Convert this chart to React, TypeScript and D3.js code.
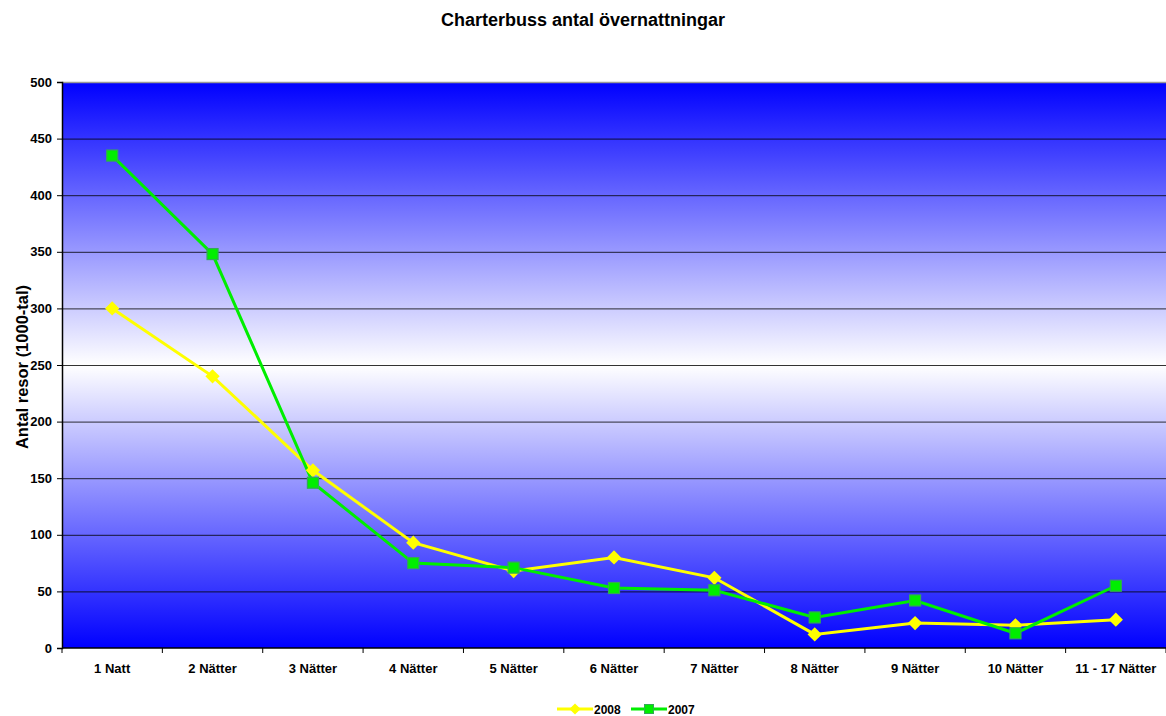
import { useEffect, useRef } from 'react';
import * as d3 from 'd3';

const categories = ['1 Natt', '2 Nätter', '3 Nätter', '4 Nätter', '5 Nätter', '6 Nätter', '7 Nätter', '8 Nätter', '9 Nätter', '10 Nätter', '11 - 17 Nätter'];
const values2008 = [300, 240, 157, 93, 68, 80, 62, 12, 22, 20, 25];
const values2007 = [435, 348, 146, 75, 71, 53, 51, 27, 42, 13, 55];
const yTicks = [0, 50, 100, 150, 200, 250, 300, 350, 400, 450, 500];

const FONT = '"Liberation Sans", Arial, sans-serif';

export default function App() {
  const ref = useRef<SVGSVGElement>(null);

  useEffect(() => {
    if (!ref.current) return;
    const svg = d3.select(ref.current);
    svg.selectAll('*').remove();

    const W = 1166, H = 716;
    const margin = { top: 82, right: 0, bottom: 68, left: 62 };
    const width = W - margin.left - margin.right;
    const height = H - margin.top - margin.bottom;

    const defs = svg.append('defs');
    const grad = defs.append('linearGradient')
      .attr('id', 'bg').attr('x1', 0).attr('y1', 0).attr('x2', 0).attr('y2', 1);
    grad.append('stop').attr('offset', '0%').attr('stop-color', '#0000ff');
    grad.append('stop').attr('offset', '50%').attr('stop-color', '#ffffff');
    grad.append('stop').attr('offset', '100%').attr('stop-color', '#0000ff');

    const x = d3.scaleBand().domain(categories).range([0, width]);
    const y = d3.scaleLinear().domain([0, 500]).range([height, 0]);

    const chart = svg.append('g').attr('transform', `translate(${margin.left},${margin.top})`);

    chart.append('rect').attr('width', width).attr('height', height).attr('fill', 'url(#bg)');

    // gridlines
    chart.append('g').selectAll('line').data(yTicks.filter(t => t > 0))
      .join('line')
      .attr('x1', 0).attr('x2', width)
      .attr('y1', d => y(d) + 0.5).attr('y2', d => y(d) + 0.5)
      .attr('stroke', d => d === 500 ? '#999' : '#000')
      .attr('stroke-opacity', d => d === 500 ? 1 : 0.8)
      .attr('stroke-width', d => d === 500 ? 1.5 : 1);

    // y axis
    const yAxis = chart.append('g')
      .call(d3.axisLeft(y).tickValues(yTicks).tickSize(5).tickPadding(5));
    yAxis.select('.domain').attr('stroke', '#000').attr('stroke-width', 1.5);
    yAxis.selectAll('text').attr('font-family', FONT).attr('font-size', 13).attr('font-weight', 'bold').attr('fill', '#000');

    // x axis
    const xAxis = chart.append('g').attr('transform', `translate(0,${height})`);
    xAxis.append('line').attr('x1', 0).attr('x2', width).attr('y1', 0).attr('y2', 0)
      .attr('stroke', '#000').attr('stroke-width', 1.5);
    xAxis.selectAll('line.tick').data(d3.range(categories.length + 1))
      .join('line').attr('class', 'tick')
      .attr('x1', i => i * x.bandwidth()).attr('x2', i => i * x.bandwidth())
      .attr('y1', 0).attr('y2', 5).attr('stroke', '#000');
    xAxis.selectAll('text').data(categories).join('text')
      .attr('x', d => (x(d) as number) + x.bandwidth() / 2)
      .attr('y', 25)
      .attr('text-anchor', 'middle')
      .attr('font-family', FONT).attr('font-size', 13).attr('font-weight', 'bold')
      .text(d => d);

    const cx = (i: number) => (x(categories[i]) as number) + x.bandwidth() / 2;

    const line = d3.line<number>().x((_, i) => cx(i)).y(d => y(d));

    // 2008
    chart.append('path').datum(values2008)
      .attr('fill', 'none').attr('stroke', '#ffff00').attr('stroke-width', 3).attr('d', line);
    // 2007
    chart.append('path').datum(values2007)
      .attr('fill', 'none').attr('stroke', '#00ee00').attr('stroke-width', 3).attr('d', line);

    const diamond = d3.symbol().type(d3.symbolDiamond2).size(130);
    chart.append('g').selectAll('path').data(values2008).join('path')
      .attr('d', diamond())
      .attr('transform', (d, i) => `translate(${cx(i)},${y(d)})`)
      .attr('fill', '#ffff00');

    chart.append('g').selectAll('rect').data(values2007).join('rect')
      .attr('x', (_, i) => cx(i) - 5.5).attr('y', d => y(d) - 5.5)
      .attr('width', 11).attr('height', 11)
      .attr('fill', '#00ee00').attr('stroke', '#33aa55').attr('stroke-width', 1.2);

    // title
    svg.append('text')
      .attr('x', W / 2).attr('y', 26)
      .attr('text-anchor', 'middle')
      .attr('font-family', FONT).attr('font-size', 18).attr('font-weight', 'bold')
      .text('Charterbuss antal övernattningar');

    // y label
    svg.append('text')
      .attr('transform', `translate(28,${367}) rotate(-90)`)
      .attr('text-anchor', 'middle')
      .attr('font-family', FONT).attr('font-size', 16.5).attr('font-weight', 'bold')
      .text('Antal resor (1000-tal)');

    // legend
    const legend = svg.append('g').attr('transform', `translate(575,709)`);
    const items = [
      { label: '2008', color: '#ffff00', marker: 'diamond' },
      { label: '2007', color: '#00ee00', marker: 'square' },
    ];
    items.forEach((it, k) => {
      const g = legend.append('g').attr('transform', `translate(${k * 74},0)`);
      g.append('line').attr('x1', -18).attr('x2', 18).attr('y1', 0).attr('y2', 0)
        .attr('stroke', it.color).attr('stroke-width', 3);
      if (it.marker === 'diamond') {
        g.append('path').attr('d', d3.symbol().type(d3.symbolDiamond2).size(80)()).attr('fill', it.color);
      } else {
        g.append('rect').attr('x', -4.5).attr('y', -4.5).attr('width', 9).attr('height', 9)
          .attr('fill', it.color).attr('stroke', '#33aa55');
      }
      g.append('text').attr('x', 19).attr('y', 4.5)
        .attr('font-family', FONT).attr('font-size', 12).attr('font-weight', 'bold')
        .text(it.label);
    });
  }, []);

  return (
    <svg ref={ref} width={1166} height={716}
      style={{ position: 'absolute', left: 0, top: 0, display: 'block' }} />
  );
}
